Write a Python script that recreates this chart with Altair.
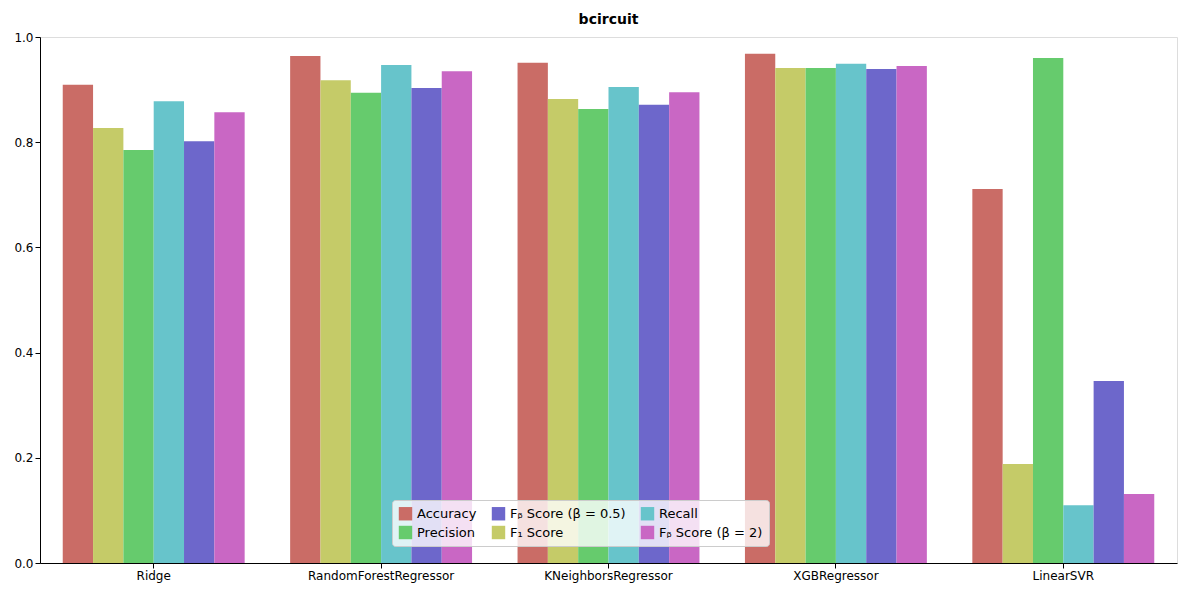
import altair as alt
import pandas as pd

models = ["Ridge", "RandomForestRegressor", "KNeighborsRegressor", "XGBRegressor", "LinearSVR"]
metrics = ["Accuracy", "F₁ Score", "Precision", "Recall", "Fᵦ Score (β = 0.5)", "Fᵦ Score (β = 2)"]
colors = ["#ca6c66", "#c5cb68", "#66cb6d", "#67c4cb", "#6d67cb", "#c967c4"]
values = {
    "Ridge": [0.909, 0.827, 0.785, 0.878, 0.802, 0.857],
    "RandomForestRegressor": [0.964, 0.918, 0.894, 0.947, 0.903, 0.935],
    "KNeighborsRegressor": [0.951, 0.882, 0.863, 0.905, 0.871, 0.895],
    "XGBRegressor": [0.968, 0.941, 0.941, 0.949, 0.939, 0.945],
    "LinearSVR": [0.711, 0.188, 0.960, 0.110, 0.346, 0.131],
}

rows = [{"model": m, "metric": k, "value": v} for m in models for k, v in zip(metrics, values[m])]
df = pd.DataFrame(rows)

# legend order column-major like matplotlib with 3 columns
legend_order = [metrics[0], metrics[2], metrics[4], metrics[1], metrics[3], metrics[5]]
legend_colors = [colors[metrics.index(m)] for m in legend_order]

chart = alt.Chart(df).mark_bar(opacity=1).encode(
    x=alt.X("model:N", sort=models, title=None,
            scale=alt.Scale(paddingInner=0.2, paddingOuter=0.1),
            axis=alt.Axis(labelAngle=0, labelFontSize=12, labelColor="black", domainColor="black", tickColor="black")),
    xOffset=alt.XOffset("metric:N", sort=metrics),
    y=alt.Y("value:Q", title=None, scale=alt.Scale(domain=[0, 1]),
            axis=alt.Axis(values=[0, 0.2, 0.4, 0.6, 0.8, 1.0], format=".1f", grid=False,
                          labelFontSize=12, labelColor="black", domainColor="black", tickColor="black")),
    color=alt.Color("metric:N", scale=alt.Scale(domain=legend_order, range=legend_colors),
                    legend=alt.Legend(title=None, orient="none", legendX=352, legendY=463, columns=3,
                                      symbolType="square", symbolSize=180, labelFontSize=13,
                                      fillColor="rgba(255,255,255,0.8)", strokeColor="#cccccc",
                                      padding=6, cornerRadius=3, columnPadding=14, rowPadding=4)),
).properties(
    width=1137, height=526,
    title=alt.TitleParams("bcircuit", fontSize=14, fontWeight="bold", font="DejaVu Sans"),
).configure_view(stroke="black").configure(font="DejaVu Sans")

chart.save("out.html", embed_options={"renderer": "svg", "actions": False})
